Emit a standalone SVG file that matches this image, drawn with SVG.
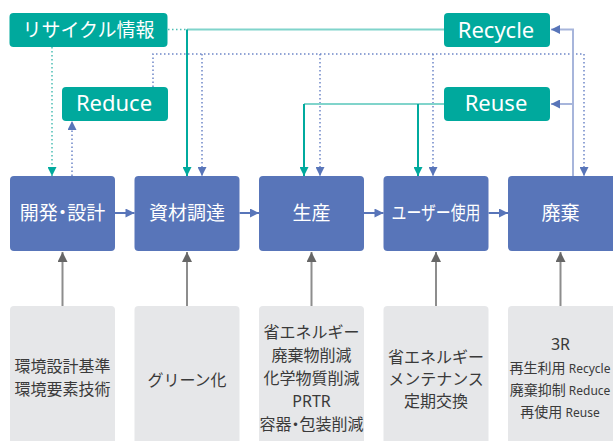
<svg xmlns="http://www.w3.org/2000/svg" width="613" height="441" viewBox="0 0 613 441">
<style>
.tbox{fill:#00a99d}
.bbox{fill:#5875b9}
.gbox{fill:#e6e7e9}
.tl{fill:#ffffff;font-family:"Noto Sans","Open Sans",sans-serif;font-size:22px;text-anchor:middle}
.tj{fill:#ffffff;font-family:"Noto Sans CJK JP",sans-serif;font-size:19px;text-anchor:middle}
.p{font-feature-settings:"palt"}
.gt{fill:#3a3a3a;font-family:"Noto Sans CJK JP",sans-serif;font-size:16px;text-anchor:middle}
.gt3{fill:#3a3a3a;font-family:"Noto Sans CJK JP",sans-serif;font-size:14px;text-anchor:middle}
.gl{font-family:"Noto Sans","Noto Sans CJK JP",sans-serif;font-size:16px}
.sm{font-family:"Noto Sans",sans-serif;font-size:12px}
.tsol{fill:none;stroke:#00aa9e;stroke-width:2}
.tsolL{fill:none;stroke:#80d4cb;stroke-width:2}
.bsolL{fill:none;stroke:#a7b5db;stroke-width:2}
.tdot{fill:none;stroke:#4cbfb4;stroke-width:1.5;stroke-dasharray:1.5 2.5}
.bdot{fill:none;stroke:#6d86c8;stroke-width:1.5;stroke-dasharray:1.5 2.5}
.flow{fill:none;stroke:#5875b9;stroke-width:2}
.gray{fill:none;stroke:#8d8d8d;stroke-width:2}
</style>
<defs>
<marker id="aT" viewBox="0 0 10 10" refX="10" refY="5" markerWidth="9" markerHeight="9" markerUnits="userSpaceOnUse" orient="auto"><path d="M0,0L10,5L0,10z" fill="#00a99d"/></marker>
<marker id="aB" viewBox="0 0 10 10" refX="10" refY="5" markerWidth="9" markerHeight="9" markerUnits="userSpaceOnUse" orient="auto"><path d="M0,0L10,5L0,10z" fill="#5875b9"/></marker>
<marker id="aH" viewBox="0 0 10 10" refX="10" refY="5" markerWidth="11" markerHeight="9" markerUnits="userSpaceOnUse" orient="auto"><path d="M0,0L10,5L0,10z" fill="#5875b9"/></marker>
<marker id="aG" viewBox="0 0 10 10" refX="10" refY="5" markerWidth="10" markerHeight="10" markerUnits="userSpaceOnUse" orient="auto"><path d="M0,0L10,5L0,10z" fill="#666666"/></marker>
</defs>

<g id="connectors">
<path class="tsolL" d="M444,29.5H187"/>
<path class="tsol" d="M187,29.5V176" marker-end="url(#aT)"/>
<path class="tdot" d="M168,29.5H186"/>
<path class="tdot" d="M52,47V176" marker-end="url(#aT)"/>
<path class="bdot" d="M72,176V121" marker-end="url(#aB)"/>
<path class="bdot" d="M153,87V54H584"/>
<path class="bdot" d="M584,54V176" marker-end="url(#aB)"/>
<path class="bdot" d="M202,54V176" marker-end="url(#aB)"/>
<path class="bdot" d="M320,54V176" marker-end="url(#aB)"/>
<path class="bdot" d="M433,54V176" marker-end="url(#aB)"/>
<path class="tsolL" d="M444,104H304"/>
<path class="tsol" d="M304,104V176" marker-end="url(#aT)"/>
<path class="tsol" d="M418,104V176" marker-end="url(#aT)"/>
<path class="bsolL" d="M573,176V29.5H551" marker-end="url(#aB)"/>
<path class="bsolL" d="M573,104H551" marker-end="url(#aB)"/>
<path class="flow" d="M115,213H134.5" marker-end="url(#aH)"/>
<path class="flow" d="M239.5,213H259" marker-end="url(#aH)"/>
<path class="flow" d="M364,213H383.5" marker-end="url(#aH)"/>
<path class="flow" d="M488.5,213H508" marker-end="url(#aH)"/>
<path class="gray" d="M62.5,306V252" marker-end="url(#aG)"/>
<path class="gray" d="M187,306V252" marker-end="url(#aG)"/>
<path class="gray" d="M311.5,306V252" marker-end="url(#aG)"/>
<path class="gray" d="M436,306V252" marker-end="url(#aG)"/>
<path class="gray" d="M560.5,306V252" marker-end="url(#aG)"/>
</g>

<g id="recycle-info"><rect class="tbox" x="9.5" y="13" width="158" height="34" rx="4"/><text class="tj" x="88.5" y="37">リサイクル情報</text></g>
<g id="reduce"><rect class="tbox" x="62" y="87" width="106" height="34" rx="4"/><text class="tl" x="114" y="111">Reduce</text></g>
<g id="recycle"><rect class="tbox" x="444" y="13" width="106" height="34" rx="4"/><text class="tl" x="496" y="37.5">Recycle</text></g>
<g id="reuse"><rect class="tbox" x="444" y="87" width="106" height="34" rx="4"/><text class="tl" x="496" y="111">Reuse</text></g>

<g id="design"><rect class="bbox" x="10" y="176" width="105" height="75" rx="4"/><text class="tj p" x="62.5" y="220">開発・設計</text></g>
<g id="procure"><rect class="bbox" x="134.5" y="176" width="105" height="75" rx="4"/><text class="tj" x="187" y="220">資材調達</text></g>
<g id="production"><rect class="bbox" x="259" y="176" width="105" height="75" rx="4"/><text class="tj" x="311.5" y="220">生産</text></g>
<g id="use"><rect class="bbox" x="383.5" y="176" width="105" height="75" rx="4"/><text class="tj" x="436" y="220" textLength="89" lengthAdjust="spacingAndGlyphs">ユーザー使用</text></g>
<g id="disposal"><rect class="bbox" x="508" y="176" width="110" height="75" rx="4"/><text class="tj" x="560.5" y="220">廃棄</text></g>

<g id="g-design"><rect class="gbox" x="10" y="306" width="105" height="145" rx="4"/>
<text class="gt" x="62.5" y="372.3">環境設計基準</text>
<text class="gt" x="62.5" y="394.8">環境要素技術</text></g>
<g id="g-procure"><rect class="gbox" x="134.5" y="306" width="105" height="145" rx="4"/>
<text class="gt" x="187" y="385.5">グリーン化</text></g>
<g id="g-production"><rect class="gbox" x="259" y="306" width="105" height="145" rx="4"/>
<text class="gt" x="311.5" y="338">省エネルギー</text>
<text class="gt" x="311.5" y="361">廃棄物削減</text>
<text class="gt" x="311.5" y="383.6">化学物質削減</text>
<text class="gt gl" x="311.5" y="407">PRTR</text>
<text class="gt p" x="311.5" y="429.5">容器・包装削減</text></g>
<g id="g-use"><rect class="gbox" x="383.5" y="306" width="105" height="145" rx="4"/>
<text class="gt" x="436" y="362.7">省エネルギー</text>
<text class="gt" x="436" y="385">メンテナンス</text>
<text class="gt" x="436" y="407">定期交換</text></g>
<g id="g-disposal"><rect class="gbox" x="508" y="306" width="110" height="145" rx="4"/>
<text class="gt gl" x="560.5" y="350">3R</text>
<text class="gt3" x="560" y="372.5">再生利用 <tspan class="sm">Recycle</tspan></text>
<text class="gt3" x="560" y="395">廃棄抑制 <tspan class="sm">Reduce</tspan></text>
<text class="gt3" x="560" y="417">再使用 <tspan class="sm">Reuse</tspan></text></g>
</svg>
